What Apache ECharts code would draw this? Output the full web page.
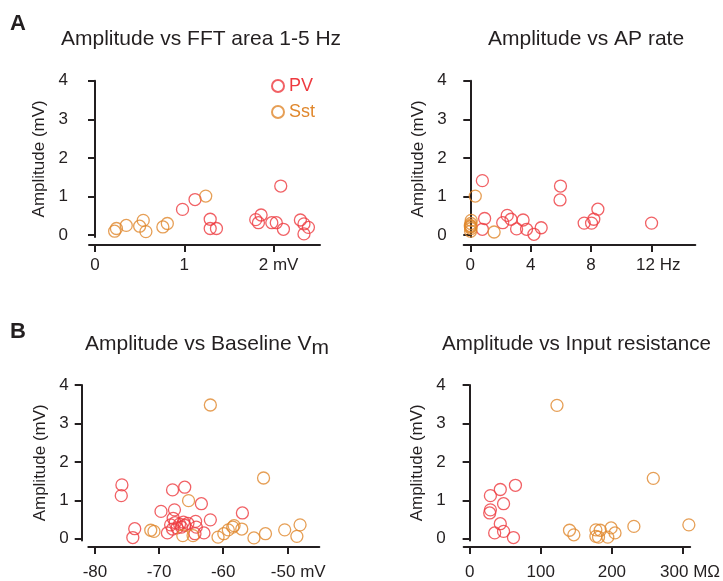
<!DOCTYPE html>
<html>
<head>
<meta charset="utf-8">
<script src="https://cdn.jsdelivr.net/npm/echarts@6/dist/echarts.min.js"></script>
<style>html,body{margin:0;padding:0;background:#fff}#c{width:723px;height:581px}</style>
</head>
<body>
<div id="c"></div>
<script>
// ---- data ----
const ampTicks = [0, 1, 2, 3, 4];
const fftTicks = [0, 1, 2];
const fftTickLabels = ['0', '1', '2 mV'];
const apTicks = [0, 4, 8, 12];
const apTickLabels = ['0', '4', '8', '12 Hz'];
const vmTicks = [-80, -70, -60, -50];
const vmTickLabels = ['-80', '-70', '-60', '-50 mV'];
const rinTicks = [0, 100, 200, 300];
const rinTickLabels = ['0', '100', '200', '300 MΩ'];

const pvFFT = [[0.98,0.665],[1.12,0.92],[1.29,0.41],[1.29,0.17],[1.36,0.17],[1.80,0.40],[1.83,0.32],[1.86,0.52],[1.98,0.32],[2.03,0.32],[2.08,1.27],[2.11,0.15],[2.30,0.39],[2.34,0.29],[2.39,0.20],[2.34,0.03]];
const sstFFT = [[0.22,0.10],[0.24,0.17],[0.35,0.25],[0.50,0.23],[0.54,0.38],[0.57,0.09],[0.76,0.21],[0.81,0.30],[1.24,1.01]];

const pvAP = [[0.80,1.41],[0.95,0.43],[0.80,0.15],[2.15,0.32],[2.45,0.51],[2.70,0.41],[3.07,0.16],[3.50,0.39],[3.73,0.15],[4.22,0.02],[4.70,0.19],[5.98,1.27],[5.95,0.91],[7.55,0.31],[8.04,0.31],[8.19,0.41],[8.46,0.67],[12.02,0.31]];
const sstAP = [[0.33,1.01],[1.58,0.08],[0.02,0.10],[0.05,0.17],[0.00,0.25],[0.03,0.23],[0.06,0.38],[0.01,0.21],[0.04,0.30]];

const pvVm = [[-75.8,1.40],[-75.9,1.12],[-73.8,0.26],[-74.1,0.03],[-69.7,0.71],[-68.7,0.15],[-67.9,1.27],[-67.6,0.75],[-67.8,0.53],[-66.0,1.34],[-63.4,0.91],[-64.3,0.45],[-64.2,0.30],[-64.4,0.13],[-63.0,0.15],[-62.0,0.49],[-57.0,0.67],[-68.2,0.36],[-67.5,0.42],[-66.8,0.38],[-66.2,0.43],[-67.9,0.25],[-67.2,0.28],[-66.5,0.30],[-66.0,0.35],[-65.5,0.40]];
const sstVm = [[-62.0,3.48],[-65.4,0.99],[-53.7,1.58],[-71.3,0.22],[-70.8,0.19],[-66.3,0.08],[-64.7,0.08],[-60.8,0.04],[-59.9,0.13],[-59.2,0.23],[-58.5,0.30],[-58.3,0.34],[-57.1,0.25],[-55.2,0.02],[-53.4,0.13],[-50.4,0.23],[-48.5,0.06],[-48.0,0.36]];

const pvRin = [[64.4,1.39],[43.1,1.28],[29.2,1.12],[47.7,0.91],[29.2,0.75],[28.2,0.67],[43.1,0.39],[35.2,0.15],[47.7,0.19],[61.6,0.03]];
const sstRin = [[122.8,3.47],[258.2,1.57],[308.2,0.36],[230.9,0.32],[140.4,0.22],[146.5,0.10],[177.5,0.23],[183.6,0.22],[177.5,0.06],[181.2,0.04],[194.2,0.04],[198.9,0.28],[204.4,0.15]];

// ---- style ----
const FONT = '"Liberation Sans", Arial, sans-serif';
const TXT = '#231f20';
const RED = '#ee3a3f';
const ORG = '#e0872c';

function yAxisCfg(gi, offset) {
  return {
    gridIndex: gi, type: 'value', min: -0.05, max: 4, offset: offset,
    name: 'Amplitude (mV)', nameLocation: 'middle', nameGap: 33, nameRotate: 90,
    nameTextStyle: { fontFamily: FONT, fontSize: 17, color: TXT },
    axisLine: { show: true, lineStyle: { color: TXT, width: 2 } },
    axisTick: { show: true, length: 7, lineStyle: { color: TXT, width: 2 }, customValues: ampTicks },
    axisLabel: { customValues: ampTicks, margin: 13, fontFamily: FONT, fontSize: 17, color: TXT },
    splitLine: { show: false }
  };
}
function xAxisCfg(gi, min, max, ticks, labels, offset, margin, unitPad) {
  return {
    gridIndex: gi, type: 'value', min: min, max: max, offset: offset,
    axisLine: { show: true, onZero: false, lineStyle: { color: TXT, width: 2 } },
    axisTick: { show: true, length: 7, lineStyle: { color: TXT, width: 2 }, customValues: ticks },
    axisLabel: {
      customValues: ticks, margin: margin, fontFamily: FONT, fontSize: 17, color: TXT,
      formatter: function (v) {
        let i = ticks.findIndex(t => Math.abs(t - v) < 1e-6);
        let s = i >= 0 ? labels[i] : '';
        if (i === ticks.length - 1) return '{u|' + s + '}';
        return s;
      },
      rich: { u: { fontFamily: FONT, fontSize: 17, color: TXT, padding: [0, 0, 0, unitPad] } }
    },
    splitLine: { show: false }
  };
}
function sc(name, gi, data, color) {
  return {
    type: 'scatter', name: name, xAxisIndex: gi, yAxisIndex: gi, data: data,
    symbol: 'circle', symbolSize: 12, clip: false,
    itemStyle: { color: 'rgba(0,0,0,0)', borderColor: color, borderWidth: 1.3 },
    emphasis: { disabled: true }
  };
}
const tStyle = { fontFamily: FONT, fontSize: 21, fontWeight: 'normal', color: TXT };

const chart = echarts.init(document.getElementById('c'), null, { renderer: 'canvas' });
chart.setOption({
  animation: false,
  backgroundColor: '#fff',
  title: [
    { text: 'A', left: 10, top: 13, padding: 0, textStyle: { fontFamily: FONT, fontSize: 22, fontWeight: 'bold', color: TXT } },
    { text: 'B', left: 10, top: 321, padding: 0, textStyle: { fontFamily: FONT, fontSize: 22, fontWeight: 'bold', color: TXT } },
    { text: 'Amplitude vs FFT area 1-5 Hz', left: 61, top: 29, padding: 0, textStyle: tStyle },
    { text: 'Amplitude vs AP rate', left: 488, top: 29, padding: 0, textStyle: tStyle },
    { text: 'Amplitude vs Baseline V', left: 85, top: 334, padding: 0, textStyle: tStyle },
    { text: 'm', left: 311.5, top: 338, padding: 0, textStyle: tStyle },
    { text: 'Amplitude vs Input resistance', left: 442, top: 334, padding: 0, textStyle: Object.assign({}, tStyle, { fontSize: 20.6 }) }
  ],
  legend: {
    orient: 'vertical', left: 271, top: 77, itemGap: 8, itemWidth: 12, itemHeight: 12, padding: 0,
    icon: 'circle',
    textStyle: { fontFamily: FONT, fontSize: 18 },
    data: [ { name: 'PV', textStyle: { color: RED } }, { name: 'Sst', textStyle: { color: ORG } } ],
    selectedMode: false
  },
  grid: [
    { left: 89, top: 80.7, width: 231, height: 156.3 },
    { left: 463.7, top: 80.7, width: 231.6, height: 156.3 },
    { left: 88.3, top: 385, width: 231, height: 155.9 },
    { left: 463.7, top: 385, width: 229, height: 155.9 }
  ],
  xAxis: [
    xAxisCfg(0, -0.0672, 2.5196, fftTicks, fftTickLabels, 8, 12, 10),
    xAxisCfg(1, -0.4377, 14.92, apTicks, apTickLabels, 8, 12, 14),
    xAxisCfg(2, -81.045, -45.0, vmTicks, vmTickLabels, 6.4, 17, 22),
    xAxisCfg(3, -8.34, 310.1, rinTicks, rinTickLabels, 6.4, 17, 14)
  ],
  yAxis: [ yAxisCfg(0, 8), yAxisCfg(1, 4), yAxisCfg(2, 6.6), yAxisCfg(3, 5) ],
  series: [
    sc('PV', 0, pvFFT, RED), sc('Sst', 0, sstFFT, ORG),
    sc('PV', 1, pvAP, RED), sc('Sst', 1, sstAP, ORG),
    sc('PV', 2, pvVm, RED), sc('Sst', 2, sstVm, ORG),
    sc('PV', 3, pvRin, RED), sc('Sst', 3, sstRin, ORG)
  ]
});
</script>
</body>
</html>
